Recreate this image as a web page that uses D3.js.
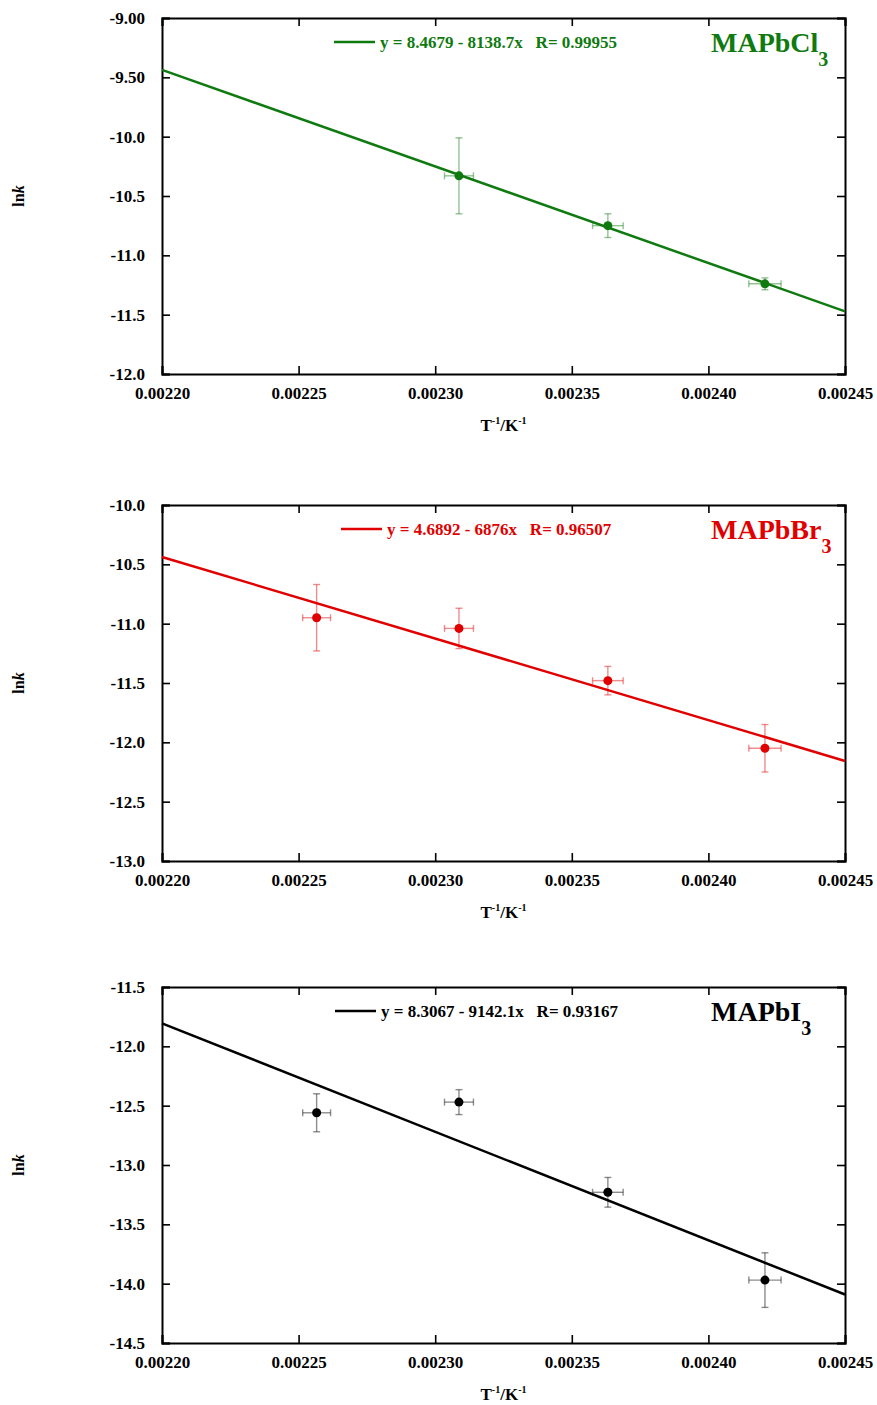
<!DOCTYPE html>
<html>
<head>
<meta charset="utf-8">
<script src="https://cdn.jsdelivr.net/npm/d3@7"></script>
<style>
  body { margin: 0; background: #fff; }
  text { font-family: "Liberation Serif", "Times New Roman", serif; font-weight: bold; }
  .axis path, .axis line { stroke: #000; }
</style>
</head>
<body>
<svg width="877" height="1405"></svg>
<script>
// ---- data ----
var xTicks = [0.00220, 0.00225, 0.00230, 0.00235, 0.00240, 0.00245];
var compounds = ["MAPbCl", "MAPbBr", "MAPbI"];
var colors = ["#0f7a0f", "#e00000", "#000000"];
var yDomains = [[-12.0, -9.0], [-13.0, -10.0], [-14.5, -11.5]];
var yTicks = [
  [-9.0, -9.5, -10.0, -10.5, -11.0, -11.5, -12.0],
  [-10.0, -10.5, -11.0, -11.5, -12.0, -12.5, -13.0],
  [-11.5, -12.0, -12.5, -13.0, -13.5, -14.0, -14.5]
];
var fitIntercept = [8.4679, 4.6892, 8.3067];
var fitSlope = [-8138.7, -6876, -9142.1];
var fitLabel = ["y = 8.4679 - 8138.7x   R= 0.99955",
                "y = 4.6892 - 6876x   R= 0.96507",
                "y = 8.3067 - 9142.1x   R= 0.93167"];

var clX = [0.0023087, 0.0023632, 0.0024207];
var clY = [-10.33, -10.75, -11.24];
var clYErr = [0.32, 0.10, 0.05];
var clXErr = [0.0000053, 0.0000056, 0.0000059];

var brX = [0.0022566, 0.0023087, 0.0023632, 0.0024207];
var brY = [-10.95, -11.04, -11.48, -12.05];
var brYErr = [0.28, 0.17, 0.12, 0.20];
var brXErr = [0.0000051, 0.0000053, 0.0000056, 0.0000059];

var iX = [0.0022566, 0.0023087, 0.0023632, 0.0024207];
var iY = [-12.56, -12.47, -13.23, -13.97];
var iYErr = [0.16, 0.105, 0.125, 0.23];
var iXErr = [0.0000051, 0.0000053, 0.0000056, 0.0000059];

var series = [
  {x: clX, y: clY, ex: clXErr, ey: clYErr},
  {x: brX, y: brY, ex: brXErr, ey: brYErr},
  {x: iX, y: iY, ex: iXErr, ey: iYErr}
];

// ---- layout ----
var svg = d3.select("svg");
var left = 162, plotW = 683, plotH = 356;
var tops = [18, 505, 987];
var legendX = [334, 341, 335];
var loc = d3.formatLocale({decimal: ".", thousands: ",", grouping: [3], currency: ["", ""], minus: "-"});
var fmtX = loc.format(".5f"), fmtY = loc.format(".3r");

compounds.forEach(function(name, i) {
  var g = svg.append("g").attr("transform", "translate(" + left + "," + tops[i] + ")");
  var x = d3.scaleLinear().domain([xTicks[0], xTicks[xTicks.length - 1]]).range([0, plotW]);
  var y = d3.scaleLinear().domain(yDomains[i]).range([plotH, 0]);
  var col = colors[i];

  // axes with inward ticks on all four sides
  g.append("g").attr("class", "axis").attr("transform", "translate(0," + plotH + ")")
    .call(d3.axisBottom(x).tickValues(xTicks).tickSize(-8).tickPadding(13).tickFormat(fmtX));
  g.append("g").attr("class", "axis")
    .call(d3.axisTop(x).tickValues(xTicks).tickSize(-8).tickFormat(""));
  g.append("g").attr("class", "axis")
    .call(d3.axisLeft(y).tickValues(yTicks[i]).tickSize(-8).tickPadding(17).tickFormat(fmtY));
  g.append("g").attr("class", "axis").attr("transform", "translate(" + plotW + ",0)")
    .call(d3.axisRight(y).tickValues(yTicks[i]).tickSize(-8).tickFormat(""));
  g.selectAll(".axis path").attr("stroke-width", 2);
  g.selectAll(".axis line").attr("stroke-width", 1.6);
  g.selectAll(".axis text").attr("font-size", 17).attr("fill", "#000")
    .attr("font-family", "Liberation Serif").attr("font-weight", "bold");

  // fit line
  var x0 = xTicks[0], x1 = xTicks[xTicks.length - 1];
  g.append("line")
    .attr("x1", x(x0)).attr("y1", y(fitIntercept[i] + fitSlope[i] * x0))
    .attr("x2", x(x1)).attr("y2", y(fitIntercept[i] + fitSlope[i] * x1))
    .attr("stroke", col).attr("stroke-width", 2.5);

  // error bars
  var s = series[i];
  var pts = s.x.map(function(v, j) { return {x: v, y: s.y[j], ex: s.ex[j], ey: s.ey[j]}; });
  var eb = g.append("g").attr("stroke", col).attr("stroke-opacity", 0.45).attr("stroke-width", 1.4);
  pts.forEach(function(p) {
    var cx = x(p.x), cy = y(p.y);
    var yt = y(p.y + p.ey), yb = y(p.y - p.ey), xl = x(p.x - p.ex), xr = x(p.x + p.ex);
    eb.append("line").attr("x1", cx).attr("x2", cx).attr("y1", yt).attr("y2", yb);
    eb.append("line").attr("x1", cx - 3.5).attr("x2", cx + 3.5).attr("y1", yt).attr("y2", yt);
    eb.append("line").attr("x1", cx - 3.5).attr("x2", cx + 3.5).attr("y1", yb).attr("y2", yb);
    eb.append("line").attr("x1", xl).attr("x2", xr).attr("y1", cy).attr("y2", cy);
    eb.append("line").attr("x1", xl).attr("x2", xl).attr("y1", cy - 3.5).attr("y2", cy + 3.5);
    eb.append("line").attr("x1", xr).attr("x2", xr).attr("y1", cy - 3.5).attr("y2", cy + 3.5);
  });
  g.selectAll(".pt").data(pts).enter().append("circle")
    .attr("class", "pt")
    .attr("cx", function(d) { return x(d.x); })
    .attr("cy", function(d) { return y(d.y); })
    .attr("r", 4.5).attr("fill", col);

  // legend
  var lx = legendX[i] - left;
  g.append("line").attr("x1", lx).attr("x2", lx + 41).attr("y1", 24).attr("y2", 24)
    .attr("stroke", col).attr("stroke-width", 2.5);
  g.append("text").attr("x", lx + 46).attr("y", 30).attr("font-size", 17)
    .attr("fill", col).attr("xml:space", "preserve").text(fitLabel[i]);

  // compound label
  var t = g.append("text").attr("x", 711 - left).attr("y", 34).attr("font-size", 28).attr("fill", col);
  t.append("tspan").text(name);
  t.append("tspan").attr("font-size", 20).attr("dy", 14).text("3");

  // axis titles
  var xt = g.append("text").attr("x", plotW / 2).attr("y", plotH + 57)
    .attr("text-anchor", "middle").attr("font-size", 17).attr("fill", "#000");
  xt.append("tspan").text("T");
  xt.append("tspan").attr("font-size", 10).attr("dy", -7).text("-1");
  xt.append("tspan").attr("dy", 7).text("/K");
  xt.append("tspan").attr("font-size", 10).attr("dy", -7).text("-1");

  var yt = g.append("text").attr("transform", "translate(" + (24 - left) + "," + (plotH / 2) + ") rotate(-90)")
    .attr("text-anchor", "middle").attr("font-size", 16).attr("fill", "#000");
  yt.append("tspan").text("ln");
  yt.append("tspan").attr("font-style", "italic").text("k");
});
</script>
</body>
</html>
